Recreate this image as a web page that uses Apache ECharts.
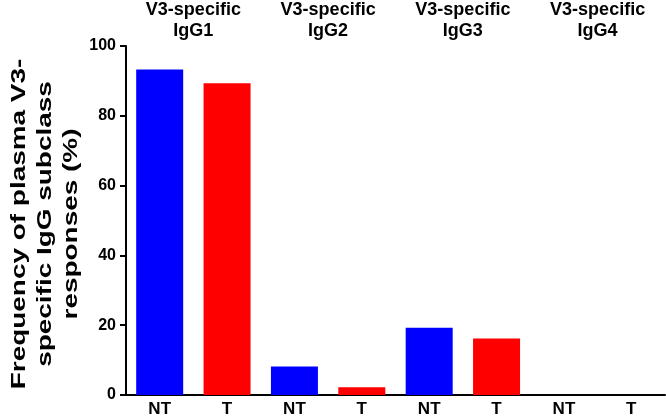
<!DOCTYPE html>
<html>
<head>
<meta charset="utf-8">
<script src="https://cdn.jsdelivr.net/npm/echarts@6/dist/echarts.min.js"></script>
<style>html,body{margin:0;padding:0;background:#fff}#c{width:666px;height:418px}</style>
</head>
<body>
<div id="c"></div>
<script>
const categories = ['NT', 'T', 'NT', 'T', 'NT', 'T', 'NT', 'T'];
const groups = ['V3-specific\nIgG1', 'V3-specific\nIgG2', 'V3-specific\nIgG3', 'V3-specific\nIgG4'];
const values = [93.3, 89.3, 8.2, 2.2, 19.3, 16.2, 0, 0];
const yTicks = [0, 20, 40, 60, 80, 100];
const colorNT = '#0000ff';
const colorT = '#ff0000';
const yTitle = 'Frequency of plasma V3-\nspecific IgG subclass\nresponses (%)';

const FONT = "'Liberation Sans', Arial, sans-serif";
const chart = echarts.init(document.getElementById('c'), null, {renderer: 'canvas'});
chart.setOption({
  animation: false,
  backgroundColor: '#fff',
  grid: {left: 126, right: 1, top: 44, bottom: 23, containLabel: false},
  xAxis: [{
    type: 'category',
    data: categories,
    position: 'bottom',
    axisLine: {lineStyle: {color: '#000', width: 2}},
    axisTick: {alignWithLabel: true, length: 5, lineStyle: {color: '#000', width: 2}},
    axisLabel: {color: '#000', fontFamily: FONT, fontWeight: 'bold', fontSize: 17, margin: 6}
  }, {
    type: 'category',
    data: groups,
    position: 'top',
    axisLine: {show: false},
    axisTick: {show: false},
    axisLabel: {color: '#000', fontFamily: FONT, fontWeight: 'bold', fontSize: 18, lineHeight: 21, margin: 4, interval: 0}
  }],
  yAxis: {
    type: 'value',
    min: yTicks[0], max: yTicks[yTicks.length - 1], interval: 20,
    splitLine: {show: false},
    axisLine: {show: true, lineStyle: {color: '#000', width: 2}},
    axisTick: {show: true, length: 6, lineStyle: {color: '#000', width: 2}},
    axisLabel: {color: '#000', fontFamily: FONT, fontWeight: 'bold', fontSize: 16, margin: 10}
  },
  graphic: [{
    type: 'text',
    x: 45, y: 224,
    rotation: Math.PI / 2,
    scaleX: 1.33,
    style: {
      text: yTitle,
      fontFamily: FONT, fontWeight: 'bold', fontSize: 21, lineHeight: 26,
      fill: '#000', align: 'center', verticalAlign: 'middle'
    }
  }],
  series: [{
    type: 'bar',
    xAxisIndex: 0,
    barWidth: 47,
    data: values.map((v, i) => ({value: v, itemStyle: {color: categories[i] === 'NT' ? colorNT : colorT}}))
  }]
});
</script>
</body>
</html>
